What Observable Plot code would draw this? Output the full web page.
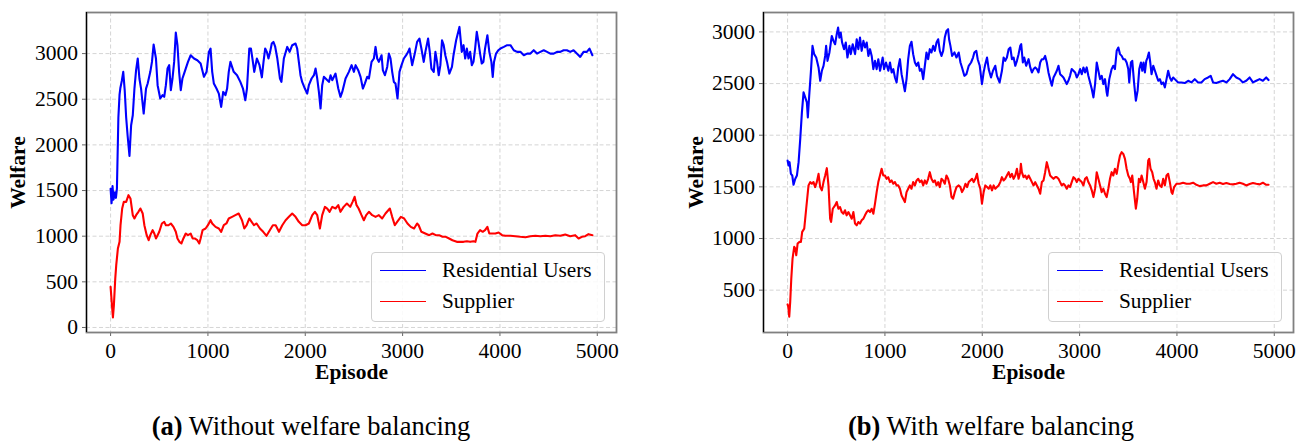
<!DOCTYPE html>
<html>
<head>
<meta charset="utf-8">
<script src="https://cdn.jsdelivr.net/npm/d3@7"></script>
<script src="https://cdn.jsdelivr.net/npm/@observablehq/plot@0.6"></script>
<style>
  body { margin: 0; background: #fff; }
  #root { position: relative; width: 1307px; height: 441px; overflow: hidden;
          font-family: "Liberation Serif", "Times New Roman", serif; color: #000; }
  .panel { position: absolute; top: 0; }
  .legend { position: absolute; top: 252px; width: 232px; height: 68px;
            border: 1px solid #d0d0d0; border-radius: 4px; background: rgba(255,255,255,0.85); }
  .legend .sw { position: absolute; left: 8px; width: 46px; height: 0; border-top: 1.8px solid; }
  .legend .lb { position: absolute; left: 70px; font-size: 21.3px; line-height: 21px; white-space: nowrap; }
  .caption { position: absolute; top: 413px; font-size: 26.5px; line-height: 26.5px; white-space: nowrap;
             transform: translateX(-50%); }
</style>
</head>
<body>
<div id="root"></div>
<script>
// ---------- data ----------
const xTicks = [0, 1000, 2000, 3000, 4000, 5000];
const yTicksA = [0, 500, 1000, 1500, 2000, 2500, 3000];
const yTicksB = [500, 1000, 1500, 2000, 2500, 3000];
const seriesNames = ["Residential Users", "Supplier"];
const seriesColors = ["#0000ff", "#ff0000"];
const captions = [["(a)", " Without welfare balancing"], ["(b)", " With welfare balancing"]];
const axisTitles = ["Episode", "Welfare"];

// (a) Without welfare balancing — Residential Users
const epA_res = [0,10,20,30,45,55,65,80,92,100,115,130,145,160,175,194,211,228,245,262,279,296,313,340,364,381,408,425,442,466,483,510,534,551,568,585,602,619,636,653,670,687,704,721,738,755,772,795,823,857,891,925,959,986,1010,1027,1044,1061,1088,1112,1136,1157,1180,1197,1214,1231,1248,1265,1299,1333,1360,1384,1401,1425,1442,1462,1476,1503,1530,1554,1571,1588,1605,1622,1639,1656,1673,1690,1713,1740,1755,1780,1815,1839,1866,1900,1917,1934,1951,1968,1996,2020,2037,2065,2089,2106,2123,2140,2157,2174,2191,2209,2243,2260,2277,2311,2339,2362,2380,2414,2448,2476,2500,2517,2544,2568,2592,2612,2636,2654,2681,2705,2722,2739,2756,2784,2797,2818,2842,2859,2876,2893,2910,2927,2948,2968,2989,3013,3037,3057,3071,3098,3125,3149,3173,3193,3217,3234,3262,3279,3296,3320,3337,3354,3371,3388,3405,3422,3439,3456,3480,3507,3523,3550,3584,3608,3626,3643,3660,3677,3694,3711,3728,3745,3762,3779,3796,3813,3830,3847,3871,3891,3912,3926,3939,3960,3984,4005,4040,4074,4108,4142,4176,4210,4245,4279,4313,4347,4381,4415,4450,4484,4518,4552,4586,4620,4654,4688,4722,4756,4790,4825,4859,4893,4920,4950];
const valA_res = [1520,1360,1550,1400,1480,1420,1520,2300,2550,2620,2700,2800,2600,2300,2100,1880,2215,2325,2617,2818,2946,2727,2617,2343,2617,2672,2800,2909,3099,2946,2654,2508,2544,2526,2654,2836,2873,2599,2727,2909,3230,3092,2800,2599,2727,2781,2836,2909,2982,2946,2927,2891,2745,2800,3019,3055,2800,2672,2617,2562,2416,2580,2544,2617,2800,2909,2854,2800,2763,2690,2617,2489,2617,3055,3055,2909,2800,2946,2873,2740,2909,3055,3019,2946,3019,3110,3128,3080,2946,2727,2690,2946,3073,3019,3092,3110,3055,2909,2763,2690,2617,2562,2654,2727,2763,2836,2727,2580,2398,2654,2745,2727,2690,2763,2708,2781,2617,2526,2580,2727,2800,2873,2800,2873,2818,2745,2617,2672,2745,2727,2909,2946,3073,2946,2909,2982,2818,2763,2854,3000,2946,2800,2690,2672,2508,2800,2873,2946,2982,3019,3055,2873,3000,3128,3165,3055,2909,3019,3165,3019,2836,2800,3019,2909,2763,2873,3146,3092,2982,2909,2781,2854,2982,3146,3292,3019,3092,2946,3055,2946,3019,2873,2909,3055,3238,3128,3000,2891,2909,3055,3201,3019,2909,2745,2909,3000,3037,3055,3073,3092,3092,3037,3019,3019,2982,3000,3000,3037,3000,3019,3037,3019,3000,3000,3019,3019,3037,3037,3019,3037,3000,2964,3019,3019,3055,2982];

// (a) Without welfare balancing — Supplier
const epA_sup = [0,14,24,34,48,58,75,92,102,119,136,160,184,204,228,245,262,286,306,330,347,371,391,408,432,449,466,483,500,527,551,568,595,619,646,670,687,707,728,748,772,795,823,843,864,891,911,925,945,976,1000,1027,1044,1078,1112,1136,1163,1190,1214,1248,1282,1316,1350,1374,1398,1425,1449,1473,1500,1534,1568,1602,1636,1667,1696,1730,1764,1798,1832,1866,1900,1934,1969,2003,2037,2072,2099,2123,2150,2174,2202,2226,2250,2277,2311,2339,2362,2394,2428,2462,2486,2507,2527,2548,2578,2602,2626,2654,2688,2722,2756,2790,2824,2869,2893,2920,2944,2982,3016,3050,3084,3118,3149,3165,3193,3233,3273,3307,3341,3375,3410,3444,3478,3512,3557,3591,3626,3660,3694,3728,3748,3769,3796,3823,3847,3871,3891,3915,3953,3987,4022,4056,4108,4159,4210,4262,4313,4364,4415,4467,4518,4569,4620,4671,4722,4773,4808,4842,4876,4910,4950];
const valA_sup = [445,245,110,245,537,683,865,938,1120,1303,1376,1376,1449,1413,1230,1194,1230,1267,1303,1248,1120,1011,956,1011,1066,1029,975,1011,1048,1139,1157,1120,1120,1139,1102,1048,975,938,920,975,1029,1011,1029,975,975,956,920,975,1066,1084,1120,1175,1139,1102,1084,1048,1120,1139,1194,1212,1230,1248,1175,1084,1120,1194,1157,1120,1139,1084,1048,1004,1066,1120,1120,1048,1120,1175,1212,1248,1212,1157,1120,1120,1139,1230,1267,1230,1084,1230,1321,1303,1267,1321,1303,1340,1267,1321,1358,1321,1376,1431,1340,1303,1230,1175,1230,1267,1230,1212,1230,1194,1248,1303,1212,1120,1157,1212,1194,1139,1102,1084,1139,1120,1048,1029,1011,1029,1011,1011,993,993,975,956,938,938,938,945,938,945,938,1029,1066,1048,1066,1102,1029,1029,1029,1040,1011,1004,1004,1000,993,989,1000,1004,1000,1004,1000,1011,1004,1018,1000,1011,975,993,1000,1022,1011];

// (b) With welfare balancing — Residential Users
const epB_res = [0,10,20,34,48,61,79,96,113,130,147,164,181,198,208,222,239,256,273,294,318,335,352,369,386,396,410,430,454,471,488,505,519,532,546,560,580,598,615,635,649,669,693,710,727,744,761,779,796,813,830,847,864,881,898,915,932,950,977,991,1011,1035,1052,1069,1086,1103,1120,1137,1154,1171,1188,1205,1222,1239,1256,1273,1290,1308,1325,1342,1359,1376,1393,1410,1427,1444,1461,1478,1496,1513,1530,1547,1564,1581,1598,1615,1632,1649,1659,1673,1690,1714,1735,1758,1776,1792,1816,1837,1861,1885,1905,1919,1939,1953,1974,1997,2014,2031,2049,2066,2090,2110,2134,2151,2178,2202,2219,2236,2253,2271,2288,2305,2322,2339,2356,2373,2390,2400,2417,2431,2451,2476,2493,2510,2527,2544,2561,2578,2595,2612,2629,2646,2663,2680,2697,2715,2732,2749,2766,2783,2800,2817,2834,2851,2868,2885,2902,2919,2937,2954,2971,2988,3005,3022,3039,3056,3073,3090,3108,3125,3142,3159,3176,3193,3210,3227,3244,3261,3278,3285,3305,3329,3346,3363,3381,3398,3415,3432,3449,3466,3483,3500,3510,3527,3541,3561,3578,3596,3613,3630,3644,3657,3671,3685,3698,3712,3726,3739,3757,3774,3791,3808,3825,3842,3859,3876,3893,3910,3927,3944,3961,3978,4012,4046,4080,4115,4149,4183,4217,4251,4285,4320,4347,4371,4405,4439,4473,4508,4542,4576,4610,4644,4678,4712,4747,4781,4815,4849,4883,4917,4941];
const valB_res = [1755,1707,1739,1626,1610,1520,1578,1610,1739,1964,2221,2415,2366,2318,2173,2382,2608,2865,2785,2752,2656,2527,2624,2672,2768,2865,2720,2801,2961,2913,2881,2978,3042,2945,2994,2897,2833,2897,2752,2865,2785,2881,2785,2929,2833,2945,2817,2913,2849,2897,2768,2833,2768,2640,2720,2640,2736,2624,2752,2640,2704,2624,2704,2608,2640,2559,2511,2656,2736,2591,2511,2425,2543,2736,2865,2905,2785,2704,2672,2704,2624,2640,2543,2672,2801,2736,2833,2801,2865,2817,2897,2929,2817,2768,2817,2945,3010,3026,2929,2865,2768,2801,2752,2801,2704,2656,2575,2591,2672,2704,2752,2801,2817,2736,2672,2495,2608,2688,2752,2640,2559,2624,2672,2575,2511,2624,2752,2720,2752,2833,2849,2736,2752,2672,2720,2785,2865,2881,2704,2752,2672,2736,2656,2608,2640,2656,2640,2608,2704,2736,2736,2768,2704,2608,2543,2479,2559,2591,2624,2672,2591,2575,2559,2527,2495,2527,2575,2640,2624,2608,2559,2591,2640,2591,2656,2608,2656,2575,2511,2447,2366,2495,2704,2624,2543,2575,2495,2543,2415,2382,2543,2640,2672,2640,2817,2849,2785,2768,2736,2736,2704,2640,2511,2704,2720,2495,2334,2431,2640,2704,2624,2704,2608,2720,2752,2801,2704,2591,2672,2624,2575,2527,2543,2495,2511,2463,2543,2624,2559,2527,2559,2543,2511,2511,2505,2527,2511,2543,2511,2511,2543,2559,2575,2511,2505,2517,2527,2511,2543,2591,2559,2543,2511,2527,2559,2511,2527,2543,2527,2559,2534];

// (b) With welfare balancing — Supplier
const epB_sup = [0,7,17,27,38,51,68,79,89,103,123,137,150,171,191,215,232,249,266,283,300,318,335,352,369,386,403,420,437,447,464,488,505,522,539,556,573,590,607,625,642,659,676,693,710,727,744,761,778,795,813,830,847,864,881,898,915,932,949,966,983,1000,1017,1034,1052,1069,1086,1103,1120,1137,1154,1171,1188,1205,1222,1239,1256,1273,1290,1308,1325,1342,1359,1376,1393,1410,1427,1444,1461,1478,1496,1513,1530,1547,1564,1581,1598,1615,1632,1649,1667,1684,1700,1718,1735,1758,1775,1792,1810,1827,1844,1861,1878,1895,1912,1929,1946,1963,1980,1997,2014,2031,2049,2066,2083,2100,2117,2134,2151,2168,2185,2202,2219,2236,2253,2271,2288,2305,2322,2339,2356,2373,2390,2397,2407,2424,2441,2458,2476,2493,2510,2527,2544,2561,2578,2595,2612,2629,2646,2663,2680,2697,2715,2732,2749,2766,2783,2800,2817,2834,2851,2868,2885,2902,2919,2937,2954,2971,2988,3005,3022,3039,3056,3073,3090,3108,3125,3142,3159,3176,3193,3210,3227,3244,3261,3278,3295,3312,3329,3346,3363,3381,3398,3415,3432,3449,3466,3483,3500,3517,3527,3541,3561,3578,3592,3609,3623,3637,3654,3671,3688,3705,3715,3729,3746,3760,3773,3790,3807,3824,3842,3859,3876,3893,3910,3927,3944,3954,3971,3995,4029,4063,4098,4132,4166,4200,4234,4268,4303,4337,4371,4405,4439,4473,4508,4542,4576,4610,4644,4678,4712,4747,4781,4815,4849,4883,4917,4941];
const valB_sup = [362,340,243,388,613,806,919,903,838,951,967,967,1064,1096,1288,1514,1546,1530,1546,1498,1546,1626,1498,1466,1546,1610,1681,1514,1192,1160,1288,1320,1353,1288,1305,1256,1240,1273,1224,1256,1224,1192,1256,1144,1128,1160,1144,1176,1192,1224,1256,1273,1256,1288,1240,1337,1449,1546,1610,1675,1610,1610,1578,1594,1546,1562,1530,1546,1514,1514,1482,1417,1385,1353,1449,1482,1514,1482,1546,1514,1562,1578,1546,1562,1514,1562,1530,1578,1642,1578,1546,1562,1514,1546,1498,1578,1562,1530,1610,1578,1514,1401,1385,1449,1498,1514,1498,1449,1482,1530,1498,1546,1562,1578,1546,1578,1626,1530,1482,1337,1449,1514,1498,1482,1514,1466,1514,1482,1498,1514,1546,1594,1562,1578,1610,1642,1594,1626,1578,1610,1675,1578,1642,1723,1642,1594,1610,1578,1610,1578,1546,1514,1546,1514,1482,1433,1546,1562,1642,1739,1675,1610,1594,1578,1594,1594,1578,1546,1514,1530,1514,1482,1514,1498,1546,1594,1578,1546,1578,1562,1546,1514,1578,1594,1546,1514,1466,1401,1482,1642,1578,1514,1449,1482,1433,1401,1482,1578,1642,1610,1675,1626,1723,1803,1836,1819,1771,1675,1610,1578,1546,1610,1433,1289,1385,1578,1546,1610,1546,1482,1546,1755,1771,1675,1642,1578,1546,1482,1562,1514,1498,1578,1514,1610,1626,1546,1449,1433,1498,1530,1530,1540,1530,1530,1540,1520,1507,1514,1514,1530,1546,1530,1540,1527,1537,1527,1524,1530,1540,1530,1514,1527,1537,1530,1524,1540,1520,1520];

// ---------- drawing ----------
const root = document.getElementById("root");
const xDomain = [-247.5, 5197.5];
const FONT = "'Liberation Serif', 'Times New Roman', serif";
const fmt = d3.format("d");

function rows(eps, vals) { return eps.map((e, i) => ({episode: e, welfare: vals[i]})); }

function panel(opts) {
  const {left, width, marginLeft, marginRight, yDomain, yTicks, res, sup, welfareDx} = opts;
  const chart = Plot.plot({
    width, height: 380,
    marginLeft, marginRight, marginTop: 12, marginBottom: 48,
    style: {fontFamily: FONT, fontSize: "21.5px", color: "#000", background: "transparent", overflow: "visible"},
    x: {domain: xDomain, label: null},
    y: {domain: yDomain, label: null},
    marks: [
      Plot.gridX(xTicks, {stroke: "#b8b8b8", strokeOpacity: 0.75, strokeWidth: 0.8, strokeDasharray: "4,2.5"}),
      Plot.gridY(yTicks, {stroke: "#b8b8b8", strokeOpacity: 0.75, strokeWidth: 0.8, strokeDasharray: "4,2.5"}),
      Plot.axisX(xTicks, {tickSize: 4, tickPadding: 6, tickFormat: fmt, stroke: "#666", fill: "#000", label: null}),
      Plot.axisY(yTicks, {tickSize: 4, tickPadding: 4.5, tickFormat: fmt, stroke: "#666", fill: "#000", label: null}),
      Plot.line(res, {x: "episode", y: "welfare", stroke: seriesColors[0], strokeWidth: 2.1}),
      Plot.line(sup, {x: "episode", y: "welfare", stroke: seriesColors[1], strokeWidth: 2.1}),
      Plot.frame({stroke: "#808080", strokeWidth: 1.8}),
      Plot.ruleX([xDomain[0]], {stroke: "#000", strokeWidth: 1.2}),
      Plot.text([axisTitles[0]], {frameAnchor: "bottom", lineAnchor: "middle", dy: 40,
        fontWeight: "bold", fontSize: 21.5, fill: "#000"}),
      Plot.text([axisTitles[1]], {frameAnchor: "left", textAnchor: "middle", lineAnchor: "middle", dx: welfareDx,
        rotate: -90, fontWeight: "bold", fontSize: 21.5, fill: "#000"})
    ]
  });
  chart.classList.add("panel");
  chart.style.left = left + "px";
  root.appendChild(chart);
}

panel({left: 0, width: 640, marginLeft: 86, marginRight: 24,
       yDomain: [-55, 3450], yTicks: yTicksA,
       res: rows(epA_res, valA_res), sup: rows(epA_sup, valA_sup), welfareDx: -68});
panel({left: 660, width: 647, marginLeft: 103, marginRight: 14,
       yDomain: [90, 3188], yTicks: yTicksB,
       res: rows(epB_res, valB_res), sup: rows(epB_sup, valB_sup), welfareDx: -67.5});

function legend(left) {
  const box = document.createElement("div");
  box.className = "legend";
  box.style.left = left + "px";
  seriesNames.forEach((name, i) => {
    const cy = 17.5 + i * 31;
    const sw = document.createElement("div");
    sw.className = "sw";
    sw.style.top = (cy - 1) + "px";
    sw.style.borderTopColor = seriesColors[i];
    const lb = document.createElement("div");
    lb.className = "lb";
    lb.style.top = (cy - 11) + "px";
    lb.textContent = name;
    box.appendChild(sw); box.appendChild(lb);
  });
  root.appendChild(box);
}
legend(371);
legend(1048);

function caption(cx, parts) {
  const d = document.createElement("div");
  d.className = "caption";
  d.style.left = cx + "px";
  const b = document.createElement("b");
  b.textContent = parts[0];
  d.appendChild(b);
  d.appendChild(document.createTextNode(parts[1]));
  root.appendChild(d);
}
caption(311, captions[0]);
caption(991, captions[1]);
</script>
</body>
</html>
